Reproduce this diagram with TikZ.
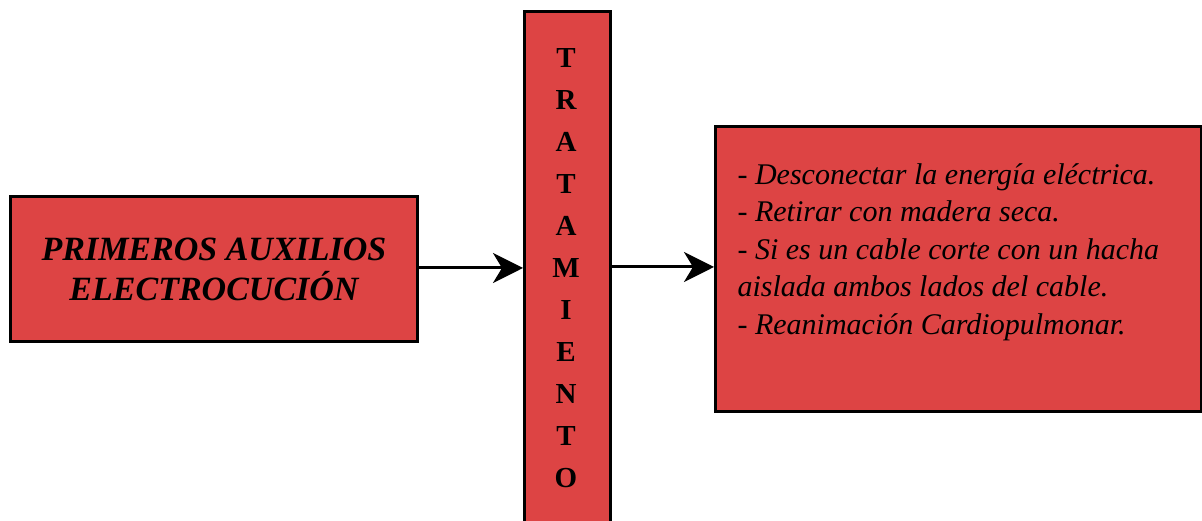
\documentclass[tikz,border=0pt]{standalone}
\usepackage{fontspec}
\setmainfont{Liberation Serif}
\usetikzlibrary{arrows.meta}
\definecolor{boxred}{RGB}{221,68,68}
\tikzset{
  redbox/.style={draw=black, line width=3pt, fill=boxred, inner sep=0pt},
  conn/.style={draw=black, line width=3pt, -{Stealth[length=30pt,width=30pt,inset=9pt]}},
}
\begin{document}
\begin{tikzpicture}[x=1pt,y=1pt]
\useasboundingbox (0,0) rectangle (1202,521);
% left box
\node[redbox, minimum width=407pt, minimum height=145pt, anchor=north west] (left) at (9,326) {};
\node[font=\fontsize{34}{40}\selectfont\bfseries\itshape, align=center] (lefttext) at (left.center) {PRIMEROS AUXILIOS\\ELECTROCUCIÓN};
% middle bar
\node[redbox, minimum width=86pt, minimum height=530pt, anchor=north west] (mid) at (523,511) {};
\node[font=\fontsize{29}{42}\selectfont\bfseries, align=center, anchor=north] (midtext) at (566,476) {T\\R\\A\\T\\A\\M\\I\\E\\N\\T\\O};
% right box
\node[redbox, minimum width=486pt, minimum height=285pt, anchor=north west] (right) at (714,396) {};
\node[font=\fontsize{30}{37.5}\selectfont\itshape, align=left, anchor=north west] (righttext) at (734,361) {- Desconectar la energía eléctrica.\\- Retirar con madera seca.\\- Si es un cable corte con un hacha\\aislada ambos lados del cable.\\- Reanimación Cardiopulmonar.};
% connectors
\coordinate (a1) at (left.east |- 0,253);
\coordinate (a2) at (mid.west |- 0,253);
\coordinate (b1) at (mid.east |- 0,254);
\coordinate (b2) at (right.west |- 0,254);
\draw[conn] (a1) -- (a2);
\draw[conn] (b1) -- (b2);
\end{tikzpicture}
\end{document}
